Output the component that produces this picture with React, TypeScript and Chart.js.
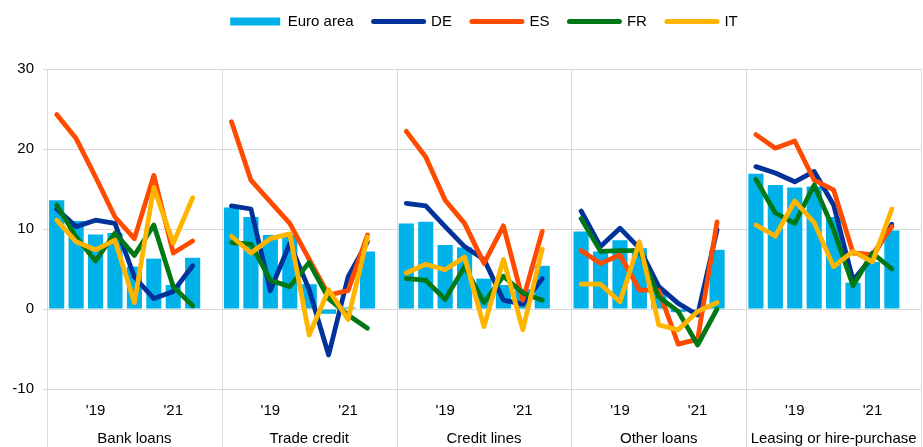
import React, { useEffect, useRef } from "react";
import { Chart, registerables } from "chart.js";

Chart.register(...registerables);

const panels = ["Bank loans", "Trade credit", "Credit lines", "Other loans", "Leasing or hire-purchase"];
const periodLabels = ["", "", "'19", "", "", "", "'21", ""];

const euroArea = [
  [13.6, 11.0, 9.3, 9.5, 5.3, 6.3, 3.0, 6.4],
  [12.7, 11.5, 9.25, 9.25, 3.1, -0.6, 0.2, 7.2],
  [10.7, 10.9, 8.0, 7.7, 3.8, 3.0, 2.5, 5.4],
  [9.7, 7.2, 8.6, 7.6, 2.0, -0.4, -0.3, 7.4],
  [16.9, 15.5, 15.2, 15.3, 11.5, 3.3, 5.9, 9.8],
];
const DE = [
  [12.5, 10.3, 11.1, 10.7, 4.0, 1.3, 2.2, 5.4],
  [12.9, 12.5, 2.3, 8.2, 2.4, -5.75, 4.0, 8.4],
  [13.2, 12.9, 10.3, 7.8, 6.2, 1.1, 0.6, 3.8],
  [12.25, 7.8, 10.1, 7.6, 2.8, 0.7, -0.75, 9.9],
  [17.8, 17.0, 15.9, 17.2, 13.0, 3.6, 6.5, 10.6],
];
const ES = [
  [24.3, 21.3, 16.5, 11.5, 8.8, 16.7, 7.0, 8.5],
  [23.4, 16.1, 13.4, 10.7, 6.2, 1.75, 2.3, 9.25],
  [22.2, 19.0, 13.6, 10.7, 5.7, 10.4, 1.1, 9.7],
  [7.3, 5.7, 6.75, 2.4, 2.3, -4.4, -3.8, 10.9],
  [21.8, 20.1, 21.0, 16.1, 14.9, 7.0, 6.8, 10.3],
];
const FR = [
  [13.0, 9.0, 6.0, 9.5, 6.7, 10.5, 2.8, 0.4],
  [8.3, 8.1, 3.6, 2.8, 5.8, 1.3, -0.75, -2.4],
  [3.8, 3.6, 1.2, 5.3, 0.8, 4.1, 2.0, 1.1],
  [11.3, 7.2, 7.3, 7.3, 1.5, -0.3, -4.5, 0.0],
  [16.2, 12.0, 10.7, 15.5, 9.9, 2.9, 7.0, 5.0],
];
const IT = [
  [11.1, 8.4, 7.4, 8.6, 0.8, 15.2, 8.2, 13.9],
  [9.1, 7.0, 8.8, 9.4, -3.25, 2.4, -1.3, 9.0],
  [4.5, 5.6, 4.9, 6.5, -2.2, 6.2, -2.6, 7.5],
  [3.1, 3.1, 0.9, 8.4, -2.0, -2.6, -0.3, 0.8],
  [10.5, 9.1, 13.5, 10.8, 5.3, 7.2, 5.9, 12.5],
];

const COLORS = {
  ea: "#00B1EA",
  DE: "#003299",
  ES: "#FF4B00",
  FR: "#007816",
  IT: "#FFB400",
};

// flatten panels, leaving one empty slot after each panel
function flat(series: number[][]): (number | null)[] {
  const out: (number | null)[] = [];
  series.forEach((p) => {
    p.forEach((v) => out.push(v));
    out.push(null);
  });
  return out;
}

function buildLabels(): (string | string[])[] {
  const out: (string | string[])[] = [];
  panels.forEach((name) => {
    for (let i = 0; i < 9; i++) {
      const pl = i < periodLabels.length ? periodLabels[i] : "";
      if (i === 4) out.push([pl, name]);
      else out.push(pl);
    }
  });
  return out;
}

const separatorPlugin = {
  id: "panelSeparators",
  beforeDatasetsDraw(chart: any) {
    const xs = chart.scales.x;
    const ctx = chart.ctx;
    ctx.save();
    ctx.strokeStyle = "#d9d9d9";
    ctx.lineWidth = 1;
    for (let p = 0; p <= panels.length; p++) {
      const x = Math.round(xs.left + (xs.width * p) / panels.length) + 0.5;
      ctx.beginPath();
      ctx.moveTo(x, chart.chartArea.top);
      ctx.lineTo(x, chart.height);
      ctx.stroke();
    }
    ctx.restore();
  },
};

const legendHeightPlugin = {
  id: "legendHeight",
  beforeInit(chart: any) {
    const lg = chart.legend;
    if (lg) {
      const origFit = lg.fit;
      lg.fit = function () {
        origFit.call(this);
        this.height = 66;
      };
      const origDraw = lg.draw;
      lg.draw = function () {
        const c = this.ctx;
        c.save();
        c.translate(0, -9);
        origDraw.call(this);
        c.restore();
      };
    }
  },
};

export default function App() {
  const ref = useRef<HTMLCanvasElement | null>(null);

  useEffect(() => {
    if (!ref.current) return;
    Chart.defaults.font.family = "'Liberation Sans', Arial, sans-serif";
    Chart.defaults.font.size = 15;
    Chart.defaults.color = "#000";

    const lineDs = (label: string, data: number[][], color: string, order: number) => ({
      type: "line" as const,
      label,
      data: flat(data),
      borderColor: color,
      backgroundColor: color,
      borderWidth: 4.8,
      borderCapStyle: "round",
      borderJoinStyle: "round",
      pointRadius: 0,
      pointHoverRadius: 0,
      tension: 0,
      spanGaps: false,
      order,
    });

    const chart = new Chart(ref.current, {
      type: "bar",
      data: {
        labels: buildLabels(),
        datasets: [
          {
            type: "bar",
            label: "Euro area",
            data: flat(euroArea),
            backgroundColor: COLORS.ea,
            barPercentage: 0.78,
            categoryPercentage: 1,
            order: 10,
          } as any,
          lineDs("DE", DE, COLORS.DE, 4),
          lineDs("ES", ES, COLORS.ES, 3),
          lineDs("FR", FR, COLORS.FR, 2),
          lineDs("IT", IT, COLORS.IT, 1),
        ],
      },
      options: {
        responsive: false,
        animation: false,
        devicePixelRatio: 1,
        layout: { padding: { top: 3, right: 2, left: 0, bottom: 0 } },
        plugins: {
          tooltip: { enabled: false },
          legend: {
            position: "top",
            fullSize: false,
            labels: {
              usePointStyle: true,
              pointStyleWidth: 50,
              boxHeight: 8,
              padding: 20,
              font: { size: 15 },
              color: "#000",
              generateLabels: (ch: any) =>
                ch.data.datasets.map((ds: any, i: number) => ({
                  text: ds.label,
                  fillStyle: i === 0 ? COLORS.ea : ds.borderColor,
                  strokeStyle: i === 0 ? COLORS.ea : ds.borderColor,
                  lineWidth: i === 0 ? 0 : 5,
                  lineCap: "round",
                  pointStyle: i === 0 ? "rect" : "line",
                  hidden: false,
                  datasetIndex: i,
                  fontColor: "#000",
                })),
            },
          },
        },
        scales: {
          x: {
            type: "category",
            grid: { display: false, drawTicks: false },
            border: { display: false },
            ticks: {
              autoSkip: false,
              maxRotation: 0,
              minRotation: 0,
              padding: 8,
              font: { size: 15, lineHeight: 28 / 15 },
              color: "#000",
            },
            afterFit: (s: any) => {
              s.height = 58;
            },
          },
          y: {
            min: -10,
            max: 30,
            ticks: { stepSize: 10, padding: 9, font: { size: 15 }, color: "#000" },
            grid: { color: "#d9d9d9", tickLength: 4, lineWidth: 1 },
            border: { display: false },
            afterFit: (s: any) => {
              s.width = 47;
            },
          },
        },
      } as any,
      plugins: [separatorPlugin, legendHeightPlugin],
    });
    return () => chart.destroy();
  }, []);

  return (
    <div style={{ position: "fixed", left: 0, top: 0, width: 923, height: 447, background: "#fff" }}>
      <canvas ref={ref} width={923} height={447} style={{ display: "block" }} />
    </div>
  );
}
